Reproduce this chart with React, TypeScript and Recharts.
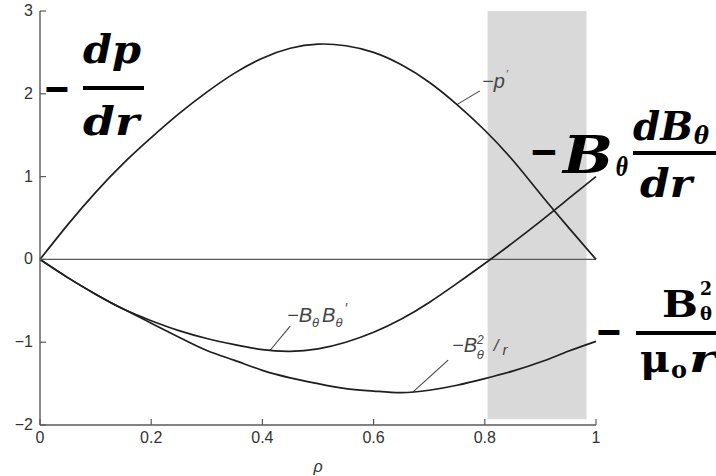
import React from 'react';
import { LineChart, Line, XAxis, YAxis, ReferenceArea, ReferenceLine } from 'recharts';

// Normalised radius
const rho = [0, 0.05, 0.1, 0.15, 0.2, 0.25, 0.3, 0.35, 0.4, 0.45, 0.5, 0.55, 0.6, 0.65, 0.7, 0.75, 0.8, 0.85, 0.9, 0.95, 1];
// −p'
const negDp = [0, 0.42, 0.81, 1.16, 1.47, 1.76, 2.02, 2.25, 2.43, 2.55, 2.6, 2.58, 2.5, 2.35, 2.14, 1.87, 1.56, 1.2, 0.79, 0.39, 0];
// −Bθ Bθ'
const negBdB = [0, -0.22, -0.42, -0.6, -0.74, -0.86, -0.955, -1.03, -1.09, -1.11, -1.08, -1.0, -0.88, -0.72, -0.52, -0.29, -0.05, 0.2, 0.46, 0.73, 1.0];
// −Bθ² / r
const negB2r = [0, -0.22, -0.42, -0.6, -0.77, -0.94, -1.1, -1.22, -1.34, -1.43, -1.5, -1.56, -1.59, -1.61, -1.58, -1.52, -1.44, -1.35, -1.24, -1.11, -0.99];

const xTicks = [0, 0.2, 0.4, 0.6, 0.8, 1];
const xTickLabels = ['0', '0.2', '0.4', '0.6', '0.8', '1'];
const yTicks = [-2, -1, 0, 1, 2, 3];
const yTickLabels = ['\u22122', '\u22121', '0', '1', '2', '3'];

// Shaded edge region
const shadeRho = [0.805, 0.983];
const shadeY = [-1.93, 3];

// Leader lines from curve labels to their curves
const leaderDp = [{ x: 0.749, y: 1.866 }, { x: 0.791, y: 2.035 }];
const leaderBdB = [{ x: 0.414, y: -1.097 }, { x: 0.45, y: -0.807 }];
const leaderB2r = [{ x: 0.671, y: -1.601 }, { x: 0.734, y: -1.217 }];

const data = rho.map((r, i) => ({ rho: r, dp: negDp[i], bdb: negBdB[i], b2r: negB2r[i] }));

const AXIS = '#5a5a5a';
const CURVE = '#1e1e1e';
const TICK_FONT = '"Liberation Sans", Arial, sans-serif';
const LABEL_FONT = '"Liberation Sans", Arial, sans-serif';
const BIG_FONT = '"DejaVu Serif", "Liberation Serif", serif';

const BottomTick = (props: any) => {
  const { x, y, payload } = props;
  const i = xTicks.indexOf(payload.value);
  return (
    <g>
      <line x1={x} y1={y} x2={x} y2={y - 6} stroke={AXIS} strokeWidth={1.2} />
      <text x={x} y={y + 18} textAnchor="middle" style={{ fontFamily: TICK_FONT, fontSize: 16 }} fill="#333">
        {i >= 0 ? xTickLabels[i] : String(payload.value)}
      </text>
    </g>
  );
};

const TopTick = (props: any) => {
  const { x, y } = props;
  return <line x1={x} y1={y} x2={x} y2={y + 6} stroke={AXIS} strokeWidth={1.2} />;
};

const LeftTick = (props: any) => {
  const { x, y, payload } = props;
  const i = yTicks.indexOf(payload.value);
  return (
    <g>
      <line x1={x} y1={y} x2={x + 6} y2={y} stroke={AXIS} strokeWidth={1.2} />
      <text x={x - 7} y={y + 5} textAnchor="end" style={{ fontFamily: TICK_FONT, fontSize: 16 }} fill="#333">
        {i >= 0 ? yTickLabels[i] : String(payload.value)}
      </text>
    </g>
  );
};

const RightTick = (props: any) => {
  const { x, y } = props;
  return <line x1={x} y1={y} x2={x - 6} y2={y} stroke={AXIS} strokeWidth={1.2} />;
};

const labelStyle = { fontFamily: LABEL_FONT, fontStyle: 'italic' as const, fill: '#444', fontSize: 20 };
const bigStyle = { fontFamily: BIG_FONT, fontWeight: 700 as const, fill: '#000' };

export default function App() {
  return (
    <div style={{ position: 'absolute', left: 0, top: 0, width: 716, height: 476, background: '#fff' }}>
      <LineChart
        width={716}
        height={476}
        data={data}
        margin={{ top: 11, right: 120, bottom: 0, left: 0 }}
      >
        <XAxis
          xAxisId="b"
          dataKey="rho"
          type="number"
          domain={[0, 1]}
          ticks={xTicks}
          height={51}
          tickSize={0}
          tickMargin={0}
          tickLine={false}
          tick={<BottomTick />}
          axisLine={{ stroke: AXIS, strokeWidth: 1.4 }}
          interval={0}
          label={{ value: '\u03c1', position: 'insideBottom', offset: 4, style: { fontFamily: LABEL_FONT, fontStyle: 'italic', fontSize: 16, fill: '#333' } }}
        />
        <XAxis
          xAxisId="t"
          dataKey="rho"
          type="number"
          orientation="top"
          domain={[0, 1]}
          ticks={xTicks}
          height={0}
          tickSize={0}
          tickMargin={0}
          tickLine={false}
          tick={<TopTick />}
          axisLine={{ stroke: AXIS, strokeWidth: 1.4 }}
          interval={0}
        />
        <YAxis
          yAxisId="l"
          type="number"
          domain={[-2, 3]}
          ticks={yTicks}
          width={40}
          tickSize={0}
          tickMargin={0}
          tickLine={false}
          tick={<LeftTick />}
          axisLine={{ stroke: AXIS, strokeWidth: 1.4 }}
          interval={0}
        />
        <YAxis
          yAxisId="r"
          type="number"
          orientation="right"
          domain={[-2, 3]}
          ticks={yTicks}
          width={0}
          tickSize={0}
          tickMargin={0}
          tickLine={false}
          tick={<RightTick />}
          axisLine={{ stroke: AXIS, strokeWidth: 1.4 }}
          interval={0}
        />
        <ReferenceArea
          xAxisId="b"
          yAxisId="l"
          x1={shadeRho[0]}
          x2={shadeRho[1]}
          y1={shadeY[0]}
          y2={shadeY[1]}
          fill="#d9d9d9"
          fillOpacity={1}
          stroke="none"
          ifOverflow="visible"
        />
        <ReferenceLine xAxisId="b" yAxisId="l" y={0} stroke={AXIS} strokeWidth={1.3} />
        <ReferenceLine xAxisId="b" yAxisId="l" segment={leaderDp} stroke="#444" strokeWidth={1.1} />
        <ReferenceLine xAxisId="b" yAxisId="l" segment={leaderBdB} stroke="#444" strokeWidth={1.1} />
        <ReferenceLine xAxisId="b" yAxisId="l" segment={leaderB2r} stroke="#444" strokeWidth={1.1} />
        <Line xAxisId="b" yAxisId="l" type="natural" dataKey="dp" stroke={CURVE} strokeWidth={1.7} dot={false} isAnimationActive={false} />
        <Line xAxisId="b" yAxisId="l" type="natural" dataKey="bdb" stroke={CURVE} strokeWidth={1.7} dot={false} isAnimationActive={false} />
        <Line xAxisId="b" yAxisId="l" type="natural" dataKey="b2r" stroke={CURVE} strokeWidth={1.7} dot={false} isAnimationActive={false} />
      </LineChart>

      <svg width={716} height={476} style={{ position: 'absolute', left: 0, top: 0, pointerEvents: 'none' }}>
        {/* curve labels */}
        <text x={482} y={88} style={labelStyle}>
          <tspan>{'\u2212p'}</tspan>
          <tspan fontSize={11} dy={-10} dx={1}>{'\u2032'}</tspan>
        </text>
        <text x={287} y={322} style={labelStyle}>
          <tspan>{'\u2212B'}</tspan>
          <tspan fontSize={13} dy={5}>{'\u03b8'}</tspan>
          <tspan dy={-5} dx={3}>B</tspan>
          <tspan fontSize={13} dy={5}>{'\u03b8'}</tspan>
          <tspan fontSize={14} dy={-14} dx={2}>{'\u2032'}</tspan>
        </text>
        <text x={452} y={352} style={labelStyle}>
          <tspan>{'\u2212B'}</tspan>
          <tspan fontSize={12} dy={-8}>2</tspan>
          <tspan fontSize={13} dy={15} dx={-7}>{'\u03b8'}</tspan>
          <tspan fontSize={17} dy={-8} dx={10}>/</tspan>
          <tspan fontSize={15} dy={4} dx={4}>r</tspan>
        </text>

        {/* −dp/dr */}
        <text x={43} y={103} fontSize={44} style={bigStyle} textLength={28} lengthAdjust="spacingAndGlyphs">{'\u2212'}</text>
        <text x={83} y={63} fontSize={40} fontStyle="italic" style={bigStyle} textLength={58} lengthAdjust="spacingAndGlyphs">dp</text>
        <rect x={83} y={86} width={61} height={4} fill="#000" />
        <text x={83} y={135} fontSize={40} fontStyle="italic" style={bigStyle} textLength={56} lengthAdjust="spacingAndGlyphs">dr</text>

        {/* −Bθ dBθ/dr */}
        <text x={529} y={166} fontSize={44} style={bigStyle} textLength={30} lengthAdjust="spacingAndGlyphs">{'\u2212'}</text>
        <text x={563} y={173} fontSize={52} fontStyle="italic" style={bigStyle} textLength={50} lengthAdjust="spacingAndGlyphs">B</text>
        <text x={616} y={176} fontSize={26} fontStyle="italic" style={bigStyle} textLength={12} lengthAdjust="spacingAndGlyphs">{'\u03b8'}</text>
        <text x={633} y={140} fontSize={40} fontStyle="italic" style={bigStyle} textLength={60} lengthAdjust="spacingAndGlyphs">dB</text>
        <text x={694} y={144} fontSize={24} fontStyle="italic" style={bigStyle} textLength={15} lengthAdjust="spacingAndGlyphs">{'\u03b8'}</text>
        <rect x={633} y={151} width={83} height={4} fill="#000" />
        <text x={640} y={197} fontSize={40} fontStyle="italic" style={bigStyle} textLength={52} lengthAdjust="spacingAndGlyphs">dr</text>

        {/* −Bθ²/(μo r) */}
        <text x={595} y={346} fontSize={44} style={bigStyle} textLength={28} lengthAdjust="spacingAndGlyphs">{'\u2212'}</text>
        <text x={662} y={317} fontSize={38} style={bigStyle} textLength={36} lengthAdjust="spacingAndGlyphs">B</text>
        <text x={700} y={295} fontSize={18} style={bigStyle} textLength={12} lengthAdjust="spacingAndGlyphs">2</text>
        <text x={700} y={320} fontSize={18} style={bigStyle} textLength={12} lengthAdjust="spacingAndGlyphs">{'\u03b8'}</text>
        <rect x={636} y={331} width={80} height={4} fill="#000" />
        <text x={640} y={372} fontSize={40} style={bigStyle} textLength={30} lengthAdjust="spacingAndGlyphs">{'\u03bc'}</text>
        <text x={671} y={378} fontSize={24} style={bigStyle} textLength={16} lengthAdjust="spacingAndGlyphs">o</text>
        <text x={689} y={372} fontSize={40} fontStyle="italic" style={bigStyle} textLength={27} lengthAdjust="spacingAndGlyphs">r</text>
      </svg>
    </div>
  );
}
